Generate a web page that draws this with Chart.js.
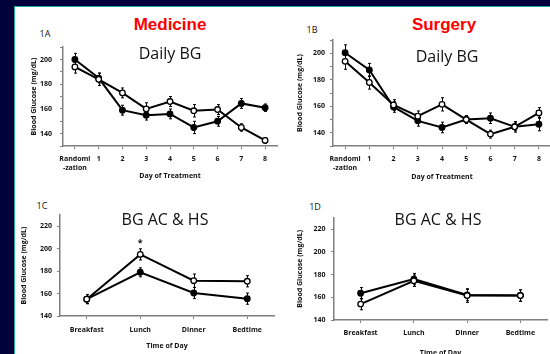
<!DOCTYPE html>
<html>
<head>
<meta charset="utf-8">
<script src="https://cdn.jsdelivr.net/npm/chart.js@4.4.1/dist/chart.umd.min.js"></script>
<style>
html, body { margin: 0; padding: 0; }
body { width: 550px; height: 354px; overflow: hidden; background: #00003a; position: relative; }
#sheet { position: absolute; left: 14px; top: 6px; width: 540px; height: 352px; background: #fff;
         border-top: 1px solid #23a99b; border-left: 1px solid #23a99b; }
canvas { position: absolute; }
.t { position: absolute; transform: translate(-50%, -50%); white-space: nowrap; color: #111; }
.group { color: #ff0000; font: bold 17px "Liberation Sans", Arial, sans-serif; }
.sub { font: 16px "Open Sans", sans-serif; }
.tag { font: 9px "Open Sans", sans-serif; }
</style>
</head>
<body>
<div id="sheet"></div>

<div class="t group" style="left:170px;top:25px">Medicine</div>
<div class="t group" style="left:444px;top:25px">Surgery</div>
<div class="t tag" style="left:45px;top:33px">1A</div>
<div class="t tag" style="left:312px;top:29px">1B</div>
<div class="t tag" style="left:42px;top:205px">1C</div>
<div class="t tag" style="left:315px;top:206px">1D</div>

<canvas id="chartA"></canvas>
<canvas id="chartB"></canvas>
<canvas id="chartC"></canvas>
<canvas id="chartD"></canvas>

<div class="t sub" style="left:170px;top:53px">Daily BG</div>
<div class="t sub" style="left:447px;top:56px">Daily BG</div>
<div class="t sub" style="left:165px;top:219px">BG AC &amp; HS</div>
<div class="t sub" style="left:438px;top:219px">BG AC &amp; HS</div>

<script>
// categories
const dayLabels = [['Randomi', '-zation'], '1', '2', '3', '4', '5', '6', '7', '8'];
const timeLabels = ['Breakfast', 'Lunch', 'Dinner', 'Bedtime'];

// 1A medicine, daily
const medDailyClosed = [200, 185, 159, 155, 156, 145, 150, 164.5, 161];
const medDailyClosedErr = [5, 4, 4, 4, 4, 5, 4, 4, 3];
const medDailyOpen = [194, 184, 173, 160, 166, 158.5, 159.5, 145, 134.5];
const medDailyOpenErr = [5, 5, 4, 5, 4, 5, 4, 3, 2];

// 1B surgery, daily
const surgDailyClosed = [200.5, 187.5, 159.5, 149, 144, 150, 151, 144.5, 146.5];
const surgDailyClosedErr = [6, 5, 4, 4, 4, 3, 4, 4, 5];
const surgDailyOpen = [194, 178, 161, 152.5, 161.5, 150, 139, 144.5, 155];
const surgDailyOpenErr = [6, 5, 4, 4, 5, 3, 3, 3, 4];

// 1C medicine, time of day
const medTodClosed = [155, 179, 160.5, 155.5];
const medTodClosedErr = [4, 4, 5, 5];
const medTodOpen = [155, 195, 171.5, 171];
const medTodOpenErr = [4, 5, 6, 5];

// 1D surgery, time of day
const surgTodClosed = [163.5, 176, 162, 161.5];
const surgTodClosedErr = [5, 5, 5, 5];
const surgTodOpen = [154, 174.5, 161.5, 161.5];
const surgTodOpenErr = [5, 5, 6, 5];

// significance marks: [category index, value]
const medTodStars = [[1, 205]];

const INK = '#111';
const AXIS = '#7f7f7f';
const SMALL = { family: '"Open Sans", sans-serif', weight: 'bold', size: 7 };

const errorBars = {
    id: 'errorBars',
    beforeDatasetsDraw(chart) {
        const { ctx, scales: { x, y } } = chart;
        ctx.save();
        ctx.strokeStyle = '#000';
        ctx.lineWidth = 1;
        chart.data.datasets.forEach(ds => {
            ds.data.forEach((v, i) => {
                const e = ds.errors[i];
                const px = Math.round(x.getPixelForValue(i)) + 0.5;
                const top = y.getPixelForValue(v + e);
                const bot = y.getPixelForValue(v - e);
                ctx.beginPath();
                ctx.moveTo(px, top); ctx.lineTo(px, bot);
                ctx.moveTo(px - 1.5, top); ctx.lineTo(px + 1.5, top);
                ctx.moveTo(px - 1.5, bot); ctx.lineTo(px + 1.5, bot);
                ctx.stroke();
            });
        });
        ctx.restore();
    }
};

const stars = {
    id: 'stars',
    afterDatasetsDraw(chart, args, opts) {
        const { ctx, scales: { x, y } } = chart;
        ctx.save();
        ctx.fillStyle = INK;
        ctx.font = 'bold 9px "Open Sans", sans-serif';
        ctx.textAlign = 'center';
        ctx.textBaseline = 'middle';
        (opts.marks || []).forEach(([i, v]) => {
            ctx.fillText('*', x.getPixelForValue(i), y.getPixelForValue(v));
        });
        ctx.restore();
    }
};

function makePanel(id, box, labels, open, openErr, closed, closedErr, yMin, yMax, xTitle, marks) {
    const padTop = 8, padRight = 10;
    const cLeft = Math.round(box.yTitleX - 4.2);
    const cTop = box.top - padTop;
    const cBottom = Math.round(box.xTitleY + 4.2);
    const cRight = box.right + padRight;
    const canvas = document.getElementById(id);
    canvas.width = cRight - cLeft;
    canvas.height = cBottom - cTop;
    canvas.style.left = cLeft + 'px';
    canvas.style.top = cTop + 'px';
    const yW = box.left - cLeft;
    const xH = cBottom - box.bottom;

    const axisGrid = { drawOnChartArea: false, drawTicks: true, tickLength: 3, color: AXIS, lineWidth: 1 };

    new Chart(canvas, {
        type: 'line',
        data: {
            labels: labels,
            datasets: [
                {
                    data: open, errors: openErr,
                    borderColor: '#000', borderWidth: 2, tension: 0,
                    pointRadius: 2.8, pointBorderWidth: 1.3,
                    pointBackgroundColor: '#fff', pointBorderColor: '#000'
                },
                {
                    data: closed, errors: closedErr,
                    borderColor: '#000', borderWidth: 2, tension: 0,
                    pointRadius: 2.8, pointBorderWidth: 1.3,
                    pointBackgroundColor: '#000', pointBorderColor: '#000'
                }
            ]
        },
        options: {
            responsive: false,
            animation: false,
            devicePixelRatio: 1,
            layout: { padding: { top: padTop, right: padRight, left: 0, bottom: 0 } },
            plugins: { legend: { display: false }, tooltip: { enabled: false }, stars: { marks: marks } },
            scales: {
                x: {
                    type: 'category',
                    offset: true,
                    grid: axisGrid,
                    border: { color: AXIS, width: 1.5 },
                    ticks: { color: INK, font: SMALL, padding: box.xPad, maxRotation: 0, autoSkip: false },
                    title: { display: true, text: xTitle, color: INK, font: SMALL, padding: 0 },
                    afterFit: s => { s.height = xH; }
                },
                y: {
                    min: yMin, max: yMax,
                    grid: axisGrid,
                    border: { color: AXIS, width: 1.5 },
                    ticks: {
                        stepSize: 10, color: INK, font: SMALL, padding: box.yPad,
                        callback: v => (v % 20 === 0 ? v : '')
                    },
                    title: { display: true, text: 'Blood Glucose (mg/dL)', color: INK, font: SMALL, padding: 0 },
                    afterFit: s => { s.width = yW; }
                }
            }
        },
        plugins: [errorBars, stars]
    });
}

makePanel('chartA', { left: 63, top: 43, right: 277, bottom: 146, yTitleX: 34, xTitleY: 176, xPad: 6, yPad: 8 },
    dayLabels, medDailyOpen, medDailyOpenErr, medDailyClosed, medDailyClosedErr, 130, 210, 'Day of Treatment', []);
makePanel('chartB', { left: 333, top: 39, right: 551, bottom: 146, yTitleX: 300.5, xTitleY: 177, xPad: 6, yPad: 5 },
    dayLabels, surgDailyOpen, surgDailyOpenErr, surgDailyClosed, surgDailyClosedErr, 130, 210, 'Day of Treatment', []);
makePanel('chartC', { left: 60, top: 214, right: 274, bottom: 316, yTitleX: 24.5, xTitleY: 346, xPad: 6.5, yPad: 5 },
    timeLabels, medTodOpen, medTodOpenErr, medTodClosed, medTodClosedErr, 140, 230, 'Time of Day', medTodStars);
makePanel('chartD', { left: 334, top: 216, right: 547, bottom: 320, yTitleX: 300.5, xTitleY: 352.5, xPad: 5.5, yPad: 5.5 },
    timeLabels, surgTodOpen, surgTodOpenErr, surgTodClosed, surgTodClosedErr, 140, 230, 'Time of Day', []);
</script>
</body>
</html>
